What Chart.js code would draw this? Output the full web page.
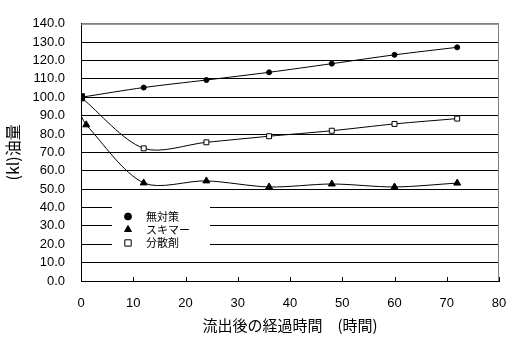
<!DOCTYPE html>
<html>
<head>
<meta charset="utf-8">
<script src="https://cdn.jsdelivr.net/npm/chart.js@4/dist/chart.umd.min.js"></script>
<style>
  html, body { margin: 0; padding: 0; background: #fff; }
</style>
</head>
<body>
<canvas id="chart" width="514" height="342"></canvas>
<script>
// Oil volume (kl) over time after a spill, three response scenarios.
const HOURS         = [0, 12, 24, 36, 48, 60, 72];
const NO_ACTION     = [100, 105.3, 109.4, 113.6, 118.3, 123.1, 127.2];   // 無対策
const SKIMMER_HOURS = [0, 1, 12, 24, 36, 48, 60, 72];
const SKIMMER       = [90, 85, 53.4, 54.5, 51.2, 52.8, 51.2, 53.3];      // スキマー
const DISPERSANT    = [100, 72.2, 75.5, 78.8, 81.8, 85.5, 88.4];         // 分散剤
const SERIES_NAMES  = ["無対策", "スキマー", "分散剤"];
const X_TITLE = "流出後の経過時間　(時間)";
const Y_TITLE = "(kl)油量";

const BLACK = "#000000";
const GREY = "#808080";
const TICK_FONT = { family: '"Liberation Sans", Arial, sans-serif', size: 13 };
const JP_FONT = '"Noto Sans CJK JP", sans-serif';

const pts = (xs, ys) => xs.map((x, i) => ({ x, y: ys[i] }));

// grey frame on top/right, small inward ticks on the x axis
const framePlugin = {
  id: "frame",
  beforeDatasetsDraw(chart) {
    const { ctx, chartArea: a, scales } = chart;
    ctx.save();
    ctx.strokeStyle = GREY;
    ctx.lineWidth = 1;
    ctx.beginPath();
    ctx.moveTo(a.left, a.top + 0.5);
    ctx.lineTo(a.right - 0.5, a.top + 0.5);
    ctx.lineTo(a.right - 0.5, a.bottom);
    ctx.stroke();
    ctx.strokeStyle = BLACK;
    ctx.beginPath();
    scales.x.ticks.forEach(t => {
      const px = Math.round(scales.x.getPixelForValue(t.value)) + 0.5;
      ctx.moveTo(px, a.bottom);
      ctx.lineTo(px, a.bottom - 4);
    });
    ctx.stroke();
    ctx.restore();
  },
};

// legend box sitting inside the plot, over the gridlines
const boxLegend = {
  id: "boxLegend",
  afterDatasetsDraw(chart) {
    const ctx = chart.ctx;
    const left = 112, top = 207, w = 98, h = 49;
    ctx.save();
    ctx.fillStyle = "#fff";
    ctx.fillRect(left, top, w, h);
    const rows = [216.5, 229.5, 243];
    chart.data.datasets.forEach((ds, i) => {
      ctx.fillStyle = ds.legendFill;
      ctx.strokeStyle = BLACK;
      ctx.lineWidth = 1;
      Chart.helpers.drawPoint(ctx, {
        pointStyle: ds.legendStyle,
        radius: ds.legendRadius,
        borderWidth: 1,
        rotation: 0,
      }, 128, rows[i]);
    });
    ctx.font = "11px " + JP_FONT;
    ctx.fillStyle = BLACK;
    ctx.textBaseline = "middle";
    ctx.textAlign = "left";
    SERIES_NAMES.forEach((name, i) => ctx.fillText(name, 146, rows[i]));
    ctx.restore();
  },
};

const lineDefaults = {
  showLine: true,
  tension: 0.3,
  borderColor: BLACK,
  borderWidth: 1,
  pointBorderColor: BLACK,
  pointBorderWidth: 1,
};

new Chart(document.getElementById("chart"), {
  type: "scatter",
  data: {
    datasets: [
      {
        ...lineDefaults,
        label: SERIES_NAMES[0],
        data: pts(HOURS, NO_ACTION),
        pointStyle: c => (c.dataIndex === 0 ? "rect" : "circle"),
        pointRadius: c => (c.dataIndex === 0 ? 5 : 2.5),
        pointBackgroundColor: BLACK,
        legendStyle: "circle",
        legendRadius: 3.5,
        legendFill: BLACK,
      },
      {
        ...lineDefaults,
        label: SERIES_NAMES[1],
        data: pts(SKIMMER_HOURS, SKIMMER),
        pointStyle: "triangle",
        pointRadius: c => (c.dataIndex === 0 ? 0 : 4),
        pointBackgroundColor: BLACK,
        legendStyle: "triangle",
        legendRadius: 4,
        legendFill: BLACK,
      },
      {
        ...lineDefaults,
        label: SERIES_NAMES[2],
        data: pts(HOURS, DISPERSANT),
        pointStyle: "rect",
        pointRadius: 3.5,
        pointBackgroundColor: "#fff",
        legendStyle: "rect",
        legendRadius: 4.5,
        legendFill: "#fff",
      },
    ],
  },
  options: {
    responsive: false,
    animation: false,
    layout: { padding: { top: 14, right: 15, left: 0, bottom: 0 } },
    plugins: { legend: { display: false }, tooltip: { enabled: false } },
    scales: {
      x: {
        type: "linear",
        min: 0, max: 80,
        afterFit: s => { s.height = 61; },
        grid: { display: false },
        border: { display: true, color: BLACK, width: 1 },
        ticks: { stepSize: 10, color: BLACK, padding: 7, font: TICK_FONT, maxRotation: 0 },
        title: {
          display: true, text: X_TITLE, color: BLACK,
          font: { family: JP_FONT, size: 15 }, padding: { top: 0, bottom: 8 },
        },
      },
      y: {
        min: 0, max: 140,
        afterFit: s => { s.width = 81; },
        grid: {
          color: c => (c.tick && c.tick.value === 140 ? GREY : BLACK),
          lineWidth: 1,
          drawTicks: false,
        },
        border: { display: true, color: BLACK, width: 1 },
        ticks: {
          stepSize: 10, autoSkip: false, color: BLACK, padding: 16, font: TICK_FONT,
          callback: v => Number(v).toFixed(1),
        },
        title: {
          display: true, text: Y_TITLE, color: BLACK,
          font: { family: JP_FONT, size: 16 }, padding: { top: 3, bottom: 0 },
        },
      },
    },
  },
  plugins: [framePlugin, boxLegend],
});
</script>
</body>
</html>
